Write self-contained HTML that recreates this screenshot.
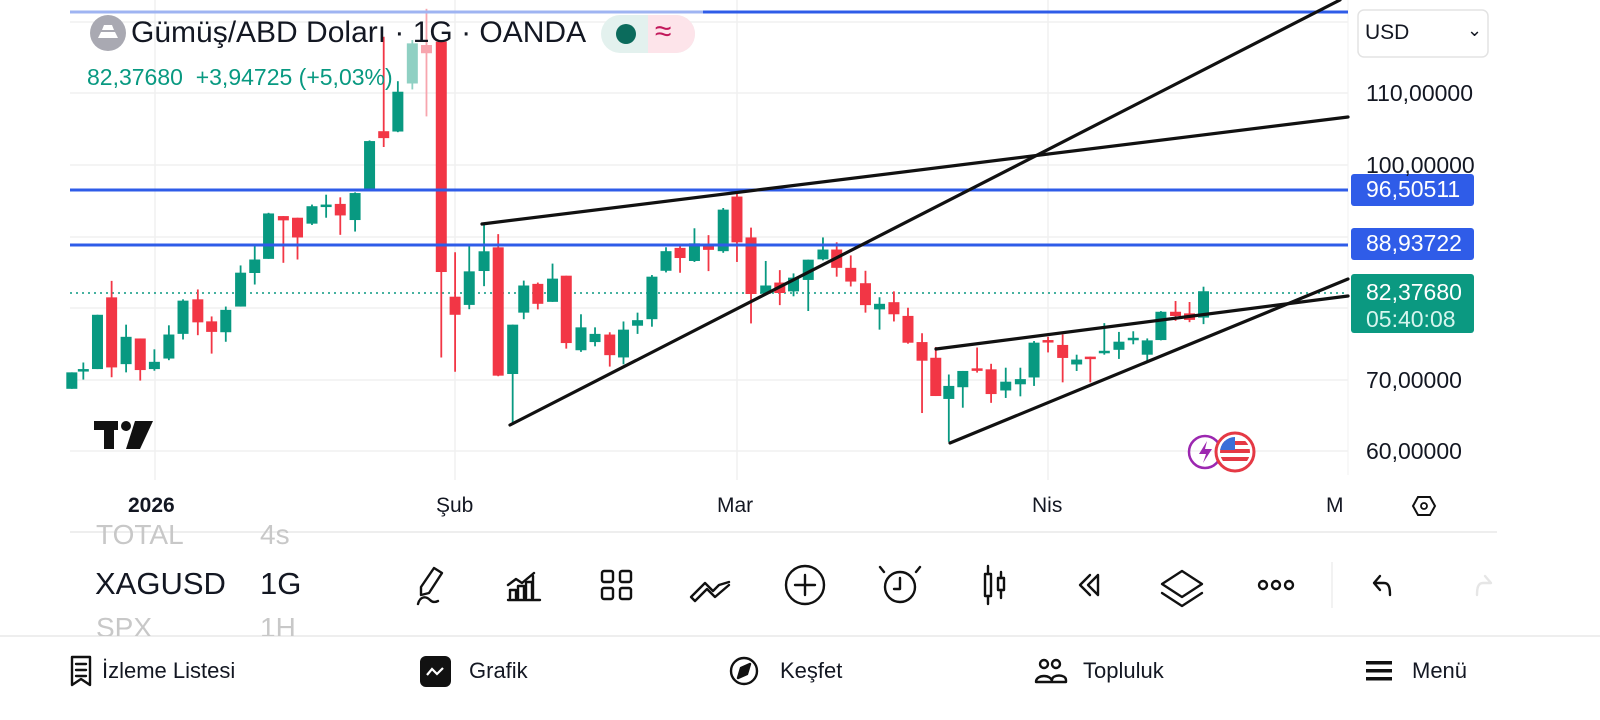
<!DOCTYPE html>
<html><head><meta charset="utf-8">
<style>
html,body{margin:0;padding:0;background:#fff;width:1600px;height:720px;overflow:hidden;font-family:"Liberation Sans",sans-serif;}
.t{position:absolute;white-space:nowrap;}
</style></head><body>
<svg id="s" width="1600" height="720" style="position:absolute;left:0;top:0" xmlns="http://www.w3.org/2000/svg">
<g stroke="#f0f0f0" stroke-width="1.5">
<line x1="70" y1="22" x2="1348" y2="22"/><line x1="70" y1="93" x2="1348" y2="93"/><line x1="70" y1="165" x2="1348" y2="165"/><line x1="70" y1="237" x2="1348" y2="237"/><line x1="70" y1="308" x2="1348" y2="308"/><line x1="70" y1="380" x2="1348" y2="380"/><line x1="70" y1="451" x2="1348" y2="451"/>
<line x1="155" y1="0" x2="155" y2="480"/><line x1="455" y1="0" x2="455" y2="480"/><line x1="737" y1="0" x2="737" y2="480"/><line x1="1048" y1="0" x2="1048" y2="480"/>
</g>
<line x1="1348" y1="0" x2="1348" y2="475" stroke="#f2f2f2" stroke-width="1"/>
<line x1="70" y1="293" x2="1348" y2="293" stroke="#089981" stroke-width="1.5" stroke-dasharray="2,4"/>
<g id="c"></g>
<line x1="70" y1="12" x2="703" y2="12" stroke="#9fb4f2" stroke-width="3"/>
<line x1="703" y1="12" x2="1348" y2="12" stroke="#2f5ce8" stroke-width="3"/>
<line x1="70" y1="190" x2="1348" y2="190" stroke="#2f5ce8" stroke-width="3"/>
<line x1="70" y1="245" x2="1348" y2="245" stroke="#2f5ce8" stroke-width="3"/>
<g stroke="#111" stroke-width="3.2" stroke-linecap="round">
<line x1="482" y1="224" x2="1348" y2="117"/>
<line x1="510" y1="425" x2="1340" y2="0"/>
<line x1="936" y1="349" x2="1348" y2="296"/>
<line x1="950" y1="443" x2="1348" y2="279"/>
</g>
<g fill="#111"><rect x="94" y="421" width="24" height="9"/><rect x="104" y="421" width="10" height="28"/><circle cx="126" cy="426" r="5"/><polygon points="135,421 153,421 140,449 126,449"/></g>
<circle cx="1205" cy="452" r="16" fill="none" stroke="#9c27b0" stroke-width="2.5"/>
<path d="M1207 441 L1199 454 L1206 454 L1203 463 L1212 449 L1205 449 Z" fill="#9c27b0"/>
<circle cx="1235" cy="452" r="19" fill="#fff" stroke="#e53945" stroke-width="3"/>
<clipPath id="fl"><circle cx="1235" cy="452" r="15"/></clipPath>
<g clip-path="url(#fl)"><rect x="1218" y="436" width="36" height="34" fill="#fff"/><rect x="1218" y="441" width="36" height="4" fill="#e53945"/><rect x="1218" y="449" width="36" height="4" fill="#e53945"/><rect x="1218" y="457" width="36" height="4" fill="#e53945"/><rect x="1218" y="436" width="17" height="14" fill="#3a6fd8"/></g>
<circle cx="108" cy="33" r="18" fill="#a9a9b2"/>
<path d="M98 38 h20 l-3 -6 h-14 Z M102 30 h12 l-2-5 h-8 Z" fill="#fff"/>
<rect x="601" y="15" width="94" height="38" rx="19" fill="#e3f1ee"/>
<rect x="648" y="15" width="47" height="38" rx="19" fill="#fde4ea"/>
<rect x="648" y="15" width="20" height="38" fill="#fde4ea"/>
<circle cx="626" cy="34" r="10" fill="#0b6b5c"/>
<rect x="1358" y="10" width="130" height="47" rx="6" fill="#fff" stroke="#e3e3e3" stroke-width="1.5"/>
<rect x="1351" y="174" width="123" height="32" rx="3" fill="#2f5ce8"/>
<rect x="1351" y="228" width="123" height="32" rx="3" fill="#2f5ce8"/>
<rect x="1351" y="274" width="123" height="59" rx="3" fill="#0b9981"/>
<path d="M1413 506 l5 -9 h12 l5 9 l-5 9 h-12 Z" fill="none" stroke="#111" stroke-width="2"/>
<circle cx="1424" cy="506" r="3" fill="none" stroke="#111" stroke-width="1.8"/>
<line x1="70" y1="532" x2="1497" y2="532" stroke="#eee" stroke-width="2"/>
<line x1="0" y1="636" x2="1600" y2="636" stroke="#eee" stroke-width="2"/>
<line x1="1332" y1="562" x2="1332" y2="608" stroke="#eee" stroke-width="1.5"/>
<g fill="none" stroke="#111" stroke-width="2.4" stroke-linecap="round" stroke-linejoin="round">
<path d="M434 568 l8 5 l-13 20 l-8 2 l0 -8 Z"/><path d="M418 604 c2 -8 8 -8 12 -4 c3 3 6 2 8 1"/>
<path d="M508 600 h32 M510 598 v-8 h6 v8 M518 598 v-12 h6 v12 M526 598 v-16 h6 v16 M533 598 v-22 M508 585 l8 -6 l6 4 l12 -10"/>
<rect x="602" y="571" width="11" height="11" rx="2"/><rect x="620" y="571" width="11" height="11" rx="2"/><rect x="602" y="588" width="11" height="11" rx="2"/><rect x="620" y="588" width="11" height="11" rx="2"/>
<path d="M691 597 l14 -14 l8 8 l6 -6 l10 -3 M691 597 l4 4 l12 -12 l8 8 l14 -12"/>
<circle cx="805" cy="585" r="19"/><path d="M805 575 v20 M795 585 h20"/>
<circle cx="900" cy="587" r="15"/><path d="M900 578 v11 h-6 M884 572 l-4 -5 M916 572 l4 -5"/>
<rect x="985" y="574" width="6" height="22"/><path d="M988 566 v8 M988 596 v8"/><rect x="998" y="578" width="6" height="12"/><path d="M1001 572 v6 M1001 590 v8"/>
<path d="M1090 575 l-10 10 l10 10 M1098 575 l-10 10 l10 10 M1098 575 v20"/>
<path d="M1182 571 l20 13 l-20 13 l-20 -13 Z M1162 593 l20 13 l20 -13"/>
<circle cx="1263" cy="585" r="4"/><circle cx="1276" cy="585" r="4"/><circle cx="1289" cy="585" r="4"/>
<path d="M1380 576 l-6 7 l6 7 M1374 583 h10 c5 0 6 5 6 12"/>
<path d="M1485 576 l6 7 M1491 583 h-8 c-5 0 -6 5 -6 12" stroke="#e6e6e6"/>
<path d="M72 657 h18 v28 l-9 -6 l-9 6 Z M76 664 h10 M76 670 h10 M76 676 h10"/>
<circle cx="744" cy="671" r="13"/><path d="M750 664 l-9 4 l-3 10 l9 -4 Z" fill="#111"/>
<circle cx="1044" cy="664" r="4"/><circle cx="1056" cy="664" r="4"/><path d="M1036 682 c0 -8 16 -8 16 0 Z M1052 680 c0-6 14-6 14 0 v2 h-14"/>
</g>
<rect x="420" y="656" width="31" height="31" rx="6" fill="#111"/>
<path d="M427 675 l5 -6 l5 5 l6 -6" fill="none" stroke="#fff" stroke-width="2.2"/>
<g fill="#111"><rect x="1366" y="661" width="26" height="3.5"/><rect x="1366" y="669" width="26" height="3.5"/><rect x="1366" y="677" width="26" height="3.5"/></g>
</svg>

<div class="t" style="left:131px;top:16px;font-size:30px;color:#131722">Gümüş/ABD Doları · 1G · OANDA</div>
<div class="t" style="left:655px;top:15px;font-size:30px;color:#c2185b">≈</div>
<div class="t" style="left:87px;top:64px;font-size:23px;color:#089981">82,37680&nbsp; +3,94725 (+5,03%)</div>

<div class="t" style="left:1365px;top:21px;font-size:21px;color:#131722">USD</div>
<div class="t" style="left:1467px;top:20px;font-size:18px;color:#131722">⌄</div>
<div class="t" style="left:1366px;top:80px;font-size:23px;color:#131722">110,00000</div>
<div class="t" style="left:1366px;top:152px;font-size:23px;color:#131722">100,00000</div>
<div class="t" style="left:1366px;top:176px;font-size:23px;color:#fff">96,50511</div>
<div class="t" style="left:1366px;top:230px;font-size:23px;color:#fff">88,93722</div>
<div class="t" style="left:1366px;top:279px;font-size:23px;color:#fff">82,37680</div>
<div class="t" style="left:1366px;top:306px;font-size:23px;color:#d6f5ee">05:40:08</div>
<div class="t" style="left:1366px;top:367px;font-size:23px;color:#131722">70,00000</div>
<div class="t" style="left:1366px;top:438px;font-size:23px;color:#131722">60,00000</div>

<div class="t" style="left:128px;top:494px;font-size:21px;font-weight:bold;color:#131722">2026</div>
<div class="t" style="left:436px;top:494px;font-size:21px;color:#131722">Şub</div>
<div class="t" style="left:717px;top:494px;font-size:21px;color:#131722">Mar</div>
<div class="t" style="left:1032px;top:494px;font-size:21px;color:#131722">Nis</div>
<div class="t" style="left:1326px;top:494px;font-size:21px;color:#131722;width:22px;overflow:hidden">M</div>

<div class="t" style="left:96px;top:522px;font-size:28px;color:#c8c8c8;height:30px;overflow:hidden;line-height:30px"><span style="position:relative;top:-2px">TOTAL</span></div>
<div class="t" style="left:260px;top:522px;font-size:28px;color:#c8c8c8;height:30px;overflow:hidden;line-height:30px"><span style="position:relative;top:-2px">4s</span></div>
<div class="t" style="left:95px;top:566px;font-size:31px;color:#131722;width:135px;overflow:hidden">XAGUSD</div>
<div class="t" style="left:260px;top:566px;font-size:31px;color:#131722">1G</div>
<div class="t" style="left:96px;top:612px;font-size:28px;color:#c8c8c8;height:24px;overflow:hidden">SPX</div>
<div class="t" style="left:260px;top:612px;font-size:28px;color:#c8c8c8;height:24px;overflow:hidden">1H</div>

<div class="t" style="left:102px;top:658px;font-size:22px;color:#131722">İzleme Listesi</div>
<div class="t" style="left:469px;top:658px;font-size:22px;color:#131722">Grafik</div>
<div class="t" style="left:780px;top:658px;font-size:22px;color:#131722">Keşfet</div>
<div class="t" style="left:1083px;top:658px;font-size:22px;color:#131722">Topluluk</div>
<div class="t" style="left:1412px;top:658px;font-size:22px;color:#131722">Menü</div>

<script>
var G='#089981',R='#f23645';
var z1=[[42,1140,1190,1140,1190,G],[77,1130,1135,1110,1162,G],[120,965,1130,965,1130,G],[163,912,1125,862,1155,R],[207,1032,1115,995,1140,G],[250,1037,1133,1037,1165,R],[293,1108,1130,1070,1135,G],[337,1025,1098,997,1103,G],[380,922,1023,918,1040,G],[425,918,988,888,1027,R],[467,985,1017,970,1083,R],[510,950,1018,940,1047,G],[555,837,940,815,940,G],[598,797,838,752,873,G],[640,657,795,655,795,G],[685,665,678,665,807,R],[728,670,730,670,797,R],[772,635,688,630,692,G],[815,630,637,600,670,G],[858,628,663,608,722,R],[903,595,677,593,712,G],[947,437,590,435,590,G],[990,407,428,120,455,R],[1033,287,408,255,410,G],[1077,140,262,130,280,'#8fd0c3'],[1120,145,170,35,362,'#f7a5ae'],[1165,135,835,135,1095,R],[1207,910,965,775,1138,R],[1250,833,935,755,948,G],[1295,772,832,685,878,G],[1338,760,1150,720,1152,R],[1382,995,1145,995,1300,G]];
var z2=[[165,337,420,322,440,G],[208,332,393,328,410,R],[253,316,387,270,387,G],[295,307,513,307,530,R],[340,465,535,425,540,G],[383,485,510,465,523,G],[428,487,550,480,585,R],[470,472,557,447,578,G],[513,443,460,420,485,G],[557,310,440,305,463,G],[600,232,292,220,297,G],[643,222,253,215,298,R],[687,208,262,162,265,G],[730,210,228,183,293,R],[775,105,232,100,237,G],[817,65,205,50,265,R],[860,190,363,160,453,R],[905,337,362,262,365,G],[948,328,360,290,397,R],[990,313,355,300,370,G],[1035,258,320,258,415,G],[1080,227,257,190,260,G],[1122,227,283,205,310,R],[1165,283,325,245,340,R],[1210,330,397,292,420,R],[1253,393,410,373,472,G],[1297,388,425,355,447,R],[1340,430,512,405,515,R],[1383,510,567,483,727,R],[1425,558,675,525,675,R]];
var z3=[[210,408,448,373,580,G],[253,362,412,362,475,G],[297,354,358,290,367,R],[340,357,433,340,460,R],[385,395,422,352,445,G],[430,387,403,352,440,G],[472,275,382,270,408,G],[515,267,270,257,305,R],[560,282,322,250,397,R],[603,327,342,312,362,G],[645,318,322,318,397,R],[688,300,307,215,312,G],[733,272,297,242,325,G],[777,260,265,240,280,G],[820,268,312,262,330,G],[862,180,267,178,268,G],[907,180,193,147,208,R],[950,185,205,150,212,R],[993,117,198,103,218,G]];
var out='';
function add(arr,ax,ay,k){arr.forEach(function(c){var x=ax+c[0]*k,bt=ay+c[1]*k,bb=ay+c[2]*k,wt=ay+c[3]*k,wb=ay+c[4]*k;var h=Math.max(bb-bt,2.5);
out+='<line x1="'+x+'" y1="'+wt+'" x2="'+x+'" y2="'+wb+'" stroke="'+c[5]+'" stroke-width="1.8"/>';
out+='<rect x="'+(x-5.5)+'" y="'+bt+'" width="11" height="'+h+'" fill="'+c[5]+'"/>';});}
add(z1,58,-2.7,0.329);add(z2,469.8,175.3,0.327);add(z3,880.5,253.2,0.3253);
document.getElementById('c').innerHTML=out;
</script>
</body></html>
